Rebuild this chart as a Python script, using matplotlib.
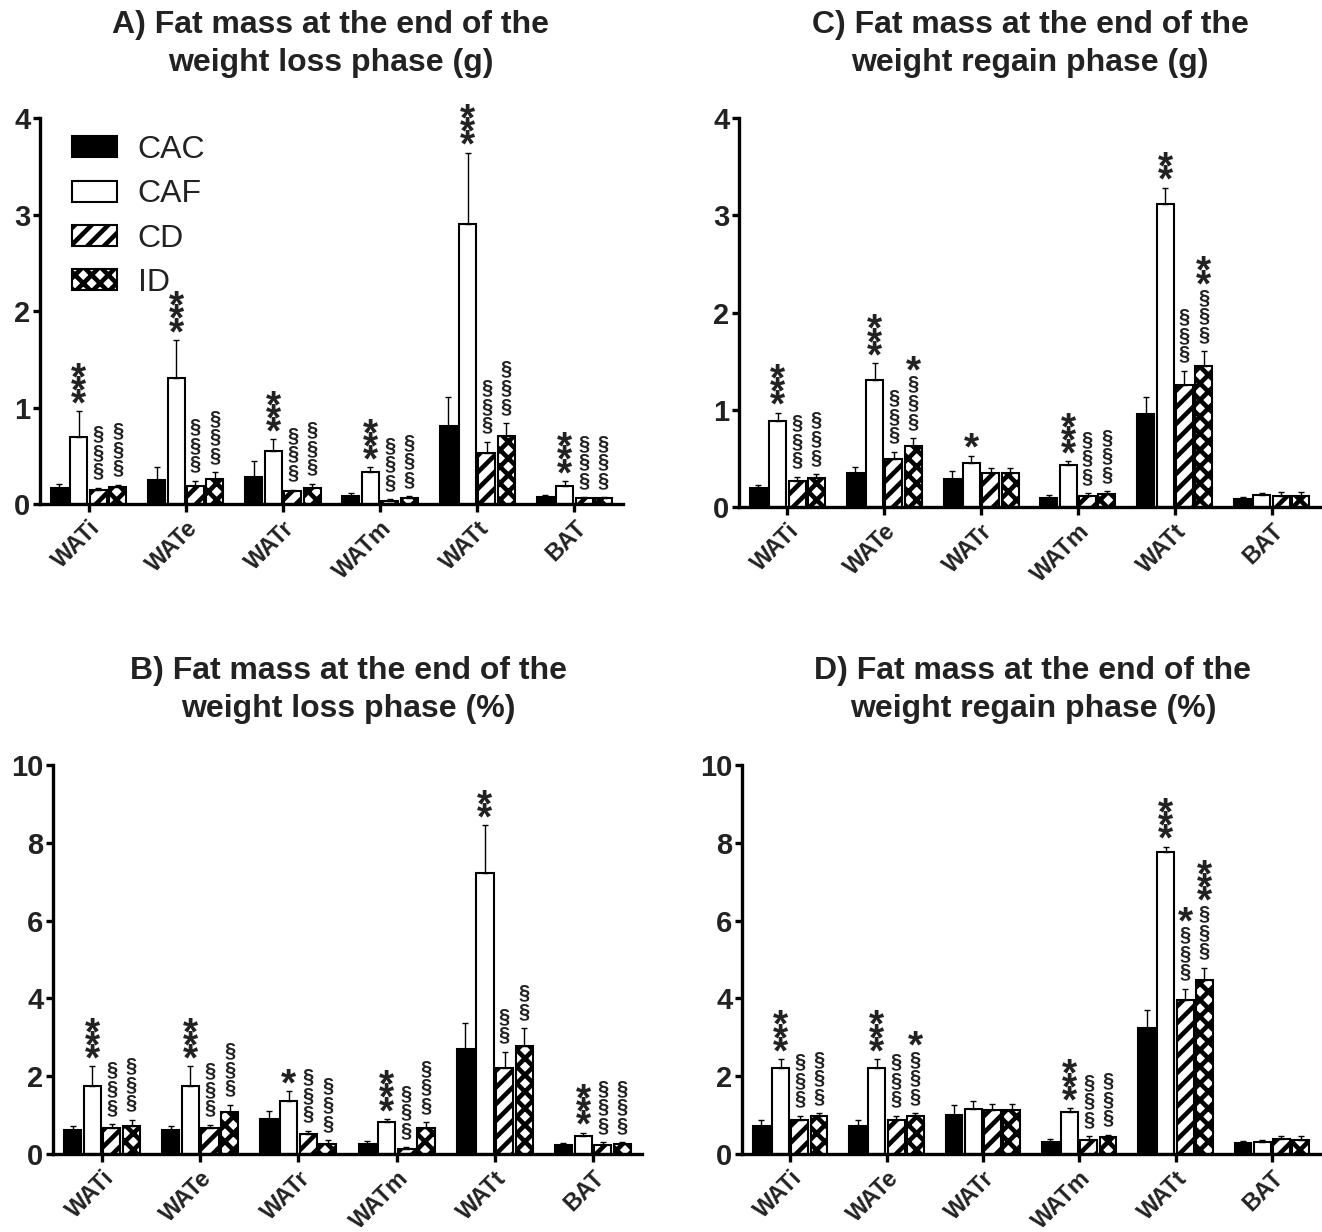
import matplotlib
matplotlib.use('Agg')
import matplotlib.pyplot as plt
import numpy as np
from matplotlib.font_manager import FontProperties, findfont
from matplotlib.ft2font import FT2Font

plt.rcParams['font.family'] = ['Liberation Sans', 'DejaVu Sans']
plt.rcParams['hatch.linewidth'] = 3.3

groups = ['WATi', 'WATe', 'WATr', 'WATm', 'WATt', 'BAT']
series = ['CAC', 'CAF', 'CD', 'ID']

# ---- Panel A: weight loss phase (g) ----
A_CAC = [0.17, 0.25, 0.28, 0.08, 0.81, 0.076]
A_CAF = [0.69, 1.31, 0.55, 0.33, 2.90, 0.19]
A_CD = [0.15, 0.19, 0.13, 0.03, 0.53, 0.06]
A_ID = [0.18, 0.26, 0.17, 0.065, 0.70, 0.065]
A_CAC_sem = [0.04, 0.13, 0.17, 0.03, 0.30, 0.015]
A_CAF_sem = [0.27, 0.39, 0.12, 0.05, 0.74, 0.05]
A_CD_sem = [0.02, 0.05, 0.02, 0.02, 0.115, 0.01]
A_ID_sem = [0.02, 0.07, 0.04, 0.015, 0.14, 0.005]
A_sig_CAF = ['***', '***', '***', '***', '***', '***']
A_sig_CD = ['§§§', '§§§', '§§§', '§§§', '§§§', '§§§']
A_sig_ID = ['§§§', '§§§', '§§§', '§§§', '§§§', '§§§']

# ---- Panel B: weight loss phase (%) ----
B_CAC = [0.62, 0.62, 0.91, 0.25, 2.69, 0.24]
B_CAF = [1.74, 1.74, 1.37, 0.81, 7.23, 0.47]
B_CD = [0.67, 0.67, 0.51, 0.13, 2.20, 0.24]
B_ID = [0.73, 1.07, 0.26, 0.66, 2.77, 0.26]
B_CAC_sem = [0.11, 0.09, 0.20, 0.08, 0.68, 0.03]
B_CAF_sem = [0.51, 0.51, 0.25, 0.09, 1.22, 0.08]
B_CD_sem = [0.10, 0.08, 0.09, 0.04, 0.43, 0.06]
B_ID_sem = [0.15, 0.20, 0.10, 0.15, 0.47, 0.04]
B_sig_CAF = ['***', '***', '*', '***', '**', '***']
B_sig_CD = ['§§§', '§§§', '§§§', '§§§', '§§', '§§§']
B_sig_ID = ['§§§', '§§§', '§§§', '§§§', '§§', '§§§']

# ---- Panel C: weight regain phase (g) ----
C_CAC = [0.196, 0.35, 0.29, 0.093, 0.96, 0.085]
C_CAF = [0.88, 1.31, 0.457, 0.435, 3.12, 0.127]
C_CD = [0.27, 0.49, 0.35, 0.116, 1.25, 0.115]
C_ID = [0.30, 0.625, 0.35, 0.134, 1.455, 0.115]
C_CAC_sem = [0.035, 0.06, 0.08, 0.027, 0.17, 0.015]
C_CAF_sem = [0.09, 0.17, 0.07, 0.035, 0.165, 0.013]
C_CD_sem = [0.04, 0.08, 0.05, 0.024, 0.15, 0.035]
C_ID_sem = [0.04, 0.085, 0.05, 0.026, 0.145, 0.035]
C_sig_CAF = ['***', '***', '*', '***', '**', '']
C_sig_CD = ['§§§', '§§§', '', '§§§', '§§§', '']
C_sig_ID = ['§§§', '§§§*', '', '§§§', '§§§**', '']

# ---- Panel D: weight regain phase (%) ----
D_CAC = [0.71, 0.71, 1.01, 0.32, 3.25, 0.27]
D_CAF = [2.22, 2.22, 1.16, 1.09, 7.77, 0.30]
D_CD = [0.88, 0.88, 1.14, 0.37, 3.96, 0.38]
D_ID = [0.97, 0.97, 1.14, 0.43, 4.48, 0.37]
D_CAC_sem = [0.17, 0.17, 0.26, 0.06, 0.46, 0.07]
D_CAF_sem = [0.22, 0.22, 0.19, 0.09, 0.13, 0.07]
D_CD_sem = [0.10, 0.10, 0.14, 0.08, 0.29, 0.09]
D_ID_sem = [0.08, 0.08, 0.14, 0.07, 0.31, 0.10]
D_sig_CAF = ['***', '***', '', '***', '***', '']
D_sig_CD = ['§§§', '§§§', '', '§§§', '§§§*', '']
D_sig_ID = ['§§§', '§§§*', '', '§§§', '§§§***', '']

titles = ['A) Fat mass at the end of the\nweight loss phase (g)',
          'B) Fat mass at the end of the\nweight loss phase (%)',
          'C) Fat mass at the end of the\nweight regain phase (g)',
          'D) Fat mass at the end of the\nweight regain phase (%)']

DPI = 100
fig = plt.figure(figsize=(13.22, 12.32), dpi=DPI)
renderer = fig.canvas.get_renderer()

panels = [
    dict(rect=[40/1322, 1-504/1232, 583/1322, 386/1232], tpos=(331/1322, 1-44/1232),
         means=[A_CAC, A_CAF, A_CD, A_ID], sems=[A_CAC_sem, A_CAF_sem, A_CD_sem, A_ID_sem],
         sig=[None, A_sig_CAF, A_sig_CD, A_sig_ID], ymax=4, ticks=[0, 1, 2, 3, 4], title=titles[0], legend=True),
    dict(rect=[53/1322, 1-1154/1232, 589/1322, 389/1232], tpos=(348/1322, 1-690/1232),
         means=[B_CAC, B_CAF, B_CD, B_ID], sems=[B_CAC_sem, B_CAF_sem, B_CD_sem, B_ID_sem],
         sig=[None, B_sig_CAF, B_sig_CD, B_sig_ID], ymax=10, ticks=[0, 2, 4, 6, 8, 10], title=titles[1], legend=False),
    dict(rect=[739/1322, 1-507/1232, 581/1322, 389/1232], tpos=(1030/1322, 1-44/1232),
         means=[C_CAC, C_CAF, C_CD, C_ID], sems=[C_CAC_sem, C_CAF_sem, C_CD_sem, C_ID_sem],
         sig=[None, C_sig_CAF, C_sig_CD, C_sig_ID], ymax=4, ticks=[0, 1, 2, 3, 4], title=titles[2], legend=False),
    dict(rect=[742/1322, 1-1154/1232, 578/1322, 389/1232], tpos=(1033/1322, 1-690/1232),
         means=[D_CAC, D_CAF, D_CD, D_ID], sems=[D_CAC_sem, D_CAF_sem, D_CD_sem, D_ID_sem],
         sig=[None, D_sig_CAF, D_sig_CD, D_sig_ID], ymax=10, ticks=[0, 2, 4, 6, 8, 10], title=titles[3], legend=False),
]

styles = [dict(facecolor='black', hatch=None),
          dict(facecolor='white', hatch=None),
          dict(facecolor='white', hatch='//'),
          dict(facecolor='white', hatch='xx')]

x = np.arange(len(groups))
width = 0.175
offsets = [-0.3, -0.1, 0.1, 0.3]

TXT = '#222222'


def stack_params(ch, fs, pitch_pt):
    """Line spacing and baseline shift (points) for a vertical stack of one glyph."""
    prop = FontProperties(family='Liberation Sans', weight='bold', size=fs)
    k = 72.0 / DPI
    _, h_lp, d_lp = renderer.get_text_width_height_descent('lp', prop, ismath=False)
    _, h_c, d_c = renderer.get_text_width_height_descent(ch, prop, ismath=False)
    h = max(h_lp, h_c) * k
    d = max(d_lp, d_c) * k
    ls = (pitch_pt - d) / (h - d)
    f = FT2Font(findfont(prop))
    f.set_size(fs, 72)
    g = f.load_char(ord(ch))
    top = g.horiBearingY / 64.0
    bottom = top - g.height / 64.0
    y0 = -(d + bottom)
    return ls, y0, top - bottom


STAR_FS = 28
STAR_PITCH = 9.5
SEC_FS = 14.5
SEC_PITCH = 13.4
GAP = 5.0
STACK_GAP = 3.0
STAR_LS, STAR_Y0, STAR_H = stack_params('*', STAR_FS, STAR_PITCH)
SEC_LS, SEC_Y0, SEC_H = stack_params('§', SEC_FS, SEC_PITCH)


def stack_text(ax, xpos, ytop, s):
    n_sec = s.count('§')
    n_star = s.count('*')
    h = GAP
    if n_sec:
        ax.annotate('\n'.join(['§'] * n_sec), xy=(xpos, ytop), xytext=(0, h + SEC_Y0),
                    textcoords='offset points', ha='center', va='bottom',
                    fontsize=SEC_FS, fontweight='bold', color=TXT, linespacing=SEC_LS)
        h += (n_sec - 1) * SEC_PITCH + SEC_H + STACK_GAP
    if n_star:
        ax.annotate('\n'.join(['*'] * n_star), xy=(xpos, ytop), xytext=(0, h + STAR_Y0),
                    textcoords='offset points', ha='center', va='bottom',
                    fontsize=STAR_FS, fontweight='bold', color=TXT, linespacing=STAR_LS)


for p in panels:
    ax = fig.add_axes(p['rect'])
    handles = []
    for k in range(4):
        m = np.array(p['means'][k])
        e = np.array(p['sems'][k])
        st = styles[k]
        b = ax.bar(x + offsets[k], m, width, color=st['facecolor'], edgecolor='black',
                   linewidth=1.5, hatch=st['hatch'], label=series[k],
                   yerr=[np.zeros_like(e), e],
                   error_kw=dict(elinewidth=1.0, capsize=2.5, capthick=1.0, ecolor='black'))
        handles.append(b)
        if p['sig'][k] is not None:
            for i, s in enumerate(p['sig'][k]):
                if s:
                    stack_text(ax, x[i] + offsets[k], m[i] + e[i], s)
    ax.set_xlim(-0.5, 5.5)
    ax.set_ylim(0, p['ymax'])
    ax.set_yticks(p['ticks'])
    ax.set_xticks(x)
    ax.set_xticklabels(groups, rotation=45, ha='right', rotation_mode='anchor',
                       fontsize=17, fontweight='bold')
    for lab in ax.get_yticklabels():
        lab.set_fontsize(21)
        lab.set_fontweight('bold')
        lab.set_color(TXT)
    for lab in ax.get_xticklabels():
        lab.set_color(TXT)
    for sp in ['top', 'right']:
        ax.spines[sp].set_visible(False)
    for sp in ['left', 'bottom']:
        ax.spines[sp].set_linewidth(2.4)
    ax.tick_params(axis='y', length=5, width=2.4, pad=2)
    ax.tick_params(axis='x', length=6, width=2.4, pad=3)
    fig.text(p['tpos'][0], p['tpos'][1], p['title'], ha='center', va='center',
             fontsize=23, fontweight='bold', color=TXT, linespacing=1.35)
    if p['legend']:
        ax.legend(handles=handles, loc='upper left', bbox_to_anchor=(0.055, 0.956),
                  frameon=False, fontsize=23, handlelength=1.4, handleheight=0.63,
                  labelspacing=0.45, handletextpad=0.65, borderpad=0, borderaxespad=0,
                  labelcolor=TXT)

fig.savefig('out.png', dpi=DPI)
